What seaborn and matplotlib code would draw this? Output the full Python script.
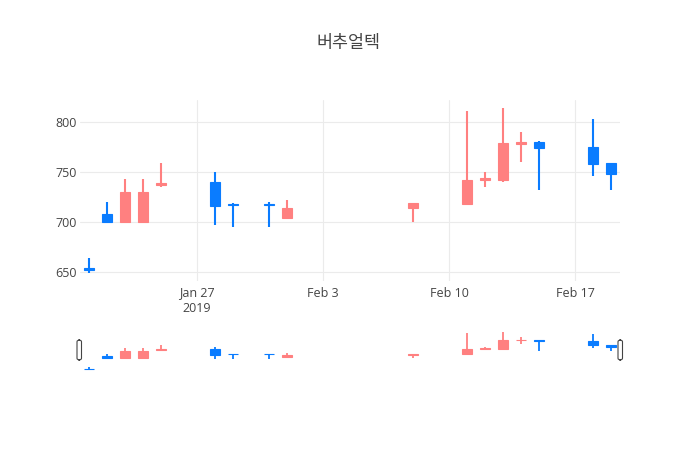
"""
버추얼텍 일봉 캔들차트 (2019-01-21 ~ 2019-02-19) + 하단 range slider
"""
import numpy as np
import pandas as pd
import matplotlib
matplotlib.use("Agg")
import matplotlib.pyplot as plt
import matplotlib.dates as mdates
from matplotlib.patches import FancyBboxPatch
import seaborn as sns

# 데이터 -------------------------------------------------------
dates = ["2019-01-21", "2019-01-22", "2019-01-23", "2019-01-24", "2019-01-25",
         "2019-01-28", "2019-01-29", "2019-01-31", "2019-02-01", "2019-02-08",
         "2019-02-11", "2019-02-12", "2019-02-13", "2019-02-14", "2019-02-15",
         "2019-02-18", "2019-02-19"]
opens = [654, 708, 700, 700, 737, 740, 718, 718, 704, 714, 718, 742, 742, 778, 780, 775, 759]
highs = [664, 720, 743, 743, 759, 750, 719, 720, 722, 719, 811, 750, 814, 790, 781, 803, 759]
lows = [649, 700, 700, 700, 735, 697, 695, 695, 703, 700, 718, 735, 740, 760, 732, 746, 732]
closes = [652, 700, 730, 730, 739, 716, 716.5, 717, 714, 719, 742, 744, 779, 780, 774, 758, 748]

tick_dates = ["2019-01-27", "2019-02-03", "2019-02-10", "2019-02-17"]
tick_labels = ["Jan 27\n2019", "Feb 3", "Feb 10", "Feb 17"]
y_ticks = [650, 700, 750, 800]

UP = "#ff8080"    # 상승 (빨강 계열)
DOWN = "#0a7cff"  # 하락 (파랑)
GRID = "#ebebeb"
TXT = "#444444"

sns.set_theme(style="whitegrid")
plt.rcParams["font.family"] = ["Open Sans", "Noto Sans CJK KR", "DejaVu Sans"]

df = pd.DataFrame({"date": pd.to_datetime(dates), "open": opens, "high": highs,
                   "low": lows, "close": closes})
df["x"] = mdates.date2num(df["date"])
df["up"] = df["close"] >= df["open"]
df["color"] = np.where(df["up"], UP, DOWN)

x0 = df["x"].min() - 0.5
x1 = df["x"].max() + 0.5
span = max(highs) - min(lows)
y0 = min(lows) - 0.05 * span
y1 = max(highs) + 0.05 * span


def draw_candles(ax, lw):
    ax.vlines(df["x"], df["low"], df["high"], colors=df["color"], linewidth=lw, zorder=2)
    body_lo = np.minimum(df["open"], df["close"])
    body_h = np.abs(df["close"] - df["open"])
    ax.bar(df["x"], body_h, bottom=body_lo, width=0.55, color=df["color"],
           edgecolor=df["color"], linewidth=0.8, zorder=3)


W, H = 700, 450
fig = plt.figure(figsize=(7, 4.5), dpi=100)
fig.patch.set_facecolor("white")

# 메인 차트
ax = fig.add_axes([80 / W, 1 - 281 / H, 540 / W, 181 / H])
draw_candles(ax, 1.5)
ax.set_xlim(x0, x1)
ax.set_ylim(y0, y1)
ax.set_facecolor("white")
ax.grid(True, color=GRID, linewidth=0.8)
ax.set_axisbelow(True)
for s in ax.spines.values():
    s.set_visible(False)
ax.set_xticks(mdates.date2num(pd.to_datetime(tick_dates)))
ax.set_xticklabels(tick_labels)
ax.set_yticks(y_ticks)
ax.tick_params(axis="both", length=0, labelsize=9, labelcolor=TXT)
ax.tick_params(axis="x", pad=4)
ax.tick_params(axis="y", pad=2)

# 하단 range slider
sl = fig.add_axes([80 / W, 1 - 372 / H, 540 / W, 42 / H])
draw_candles(sl, 1.3)
sl.set_xlim(x0, x1)
sl.set_ylim(y0, y1)
sl.set_facecolor("white")
sl.grid(False)
sl.set_xticks([])
sl.set_yticks([])
for s in sl.spines.values():
    s.set_visible(False)

for hx in (77, 618):
    fig.patches.append(FancyBboxPatch((hx / W, 1 - 360 / H), 4.5 / W, 20 / H,
                                      boxstyle="round,pad=0,rounding_size=0.004",
                                      transform=fig.transFigure, facecolor="white",
                                      edgecolor=TXT, linewidth=0.8, zorder=5))

fig.text(349 / W, 1 - 43 / H, "버추얼텍", ha="center", va="center", fontsize=12.5,
         color=TXT, family=["Noto Sans CJK KR", "DejaVu Sans"])

fig.savefig("out.png", dpi=100)
plt.close(fig)
